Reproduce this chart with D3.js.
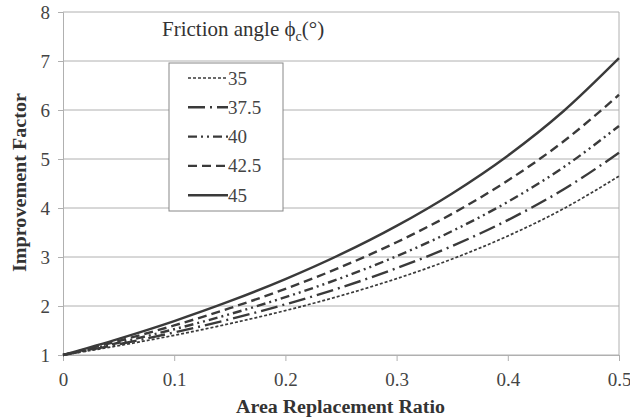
<!DOCTYPE html>
<html><head><meta charset="utf-8">
<script src="https://cdn.jsdelivr.net/npm/d3@7"></script>
<style>body{margin:0;background:#fff}</style>
</head><body><svg id="c" width="630" height="420" font-family="'Liberation Serif', 'DejaVu Serif', serif"></svg>
<script>
const ratios = [0, 0.05, 0.1, 0.15, 0.2, 0.25, 0.3, 0.35, 0.4, 0.45, 0.5];
const angles = ["35", "37.5", "40", "42.5", "45"];
const phi35  = [1, 1.190, 1.402, 1.640, 1.907, 2.211, 2.558, 2.960, 3.429, 3.984, 4.651];
const phi375 = [1, 1.218, 1.460, 1.730, 2.034, 2.378, 2.771, 3.224, 3.753, 4.377, 5.126];
const phi40  = [1, 1.250, 1.526, 1.834, 2.180, 2.570, 3.016, 3.529, 4.126, 4.830, 5.674];
const phi425 = [1, 1.286, 1.603, 1.955, 2.350, 2.795, 3.301, 3.883, 4.560, 5.357, 6.311];
const phi45  = [1, 1.330, 1.693, 2.097, 2.549, 3.057, 3.635, 4.298, 5.068, 5.974, 7.057];
const xTicks = [0, 0.1, 0.2, 0.3, 0.4, 0.5];
const yTicks = [1, 2, 3, 4, 5, 6, 7, 8];

const seriesVals = [phi35, phi375, phi40, phi425, phi45];
const dashes = ["3,2", "17,5,2,5", "9,4,2,4,2,4", "9,5", null];
const widths = [1.7, 2.4, 2.4, 2.4, 2.4];
const col = "#3a3a3a";
const txt = "#444";
const FF = "Liberation Serif, DejaVu Serif, serif";

const svg = d3.select("#c");
const L = 63, R = 619, T = 12, B = 355;
const x = d3.scaleLinear().domain([0, 0.5]).range([L, R]);
const y = d3.scaleLinear().domain([1, 8]).range([B, T]);

// grid
svg.append("g").selectAll("line").data(yTicks).join("line")
  .attr("x1", L).attr("x2", R).attr("y1", d => y(d)).attr("y2", d => y(d))
  .attr("stroke", "#b0b0b0").attr("stroke-width", 1);
svg.append("line").attr("x1", R).attr("x2", R).attr("y1", T).attr("y2", B).attr("stroke", "#b0b0b0");

// axes
const xa = svg.append("g").attr("transform", `translate(0,${B})`)
  .call(d3.axisBottom(x).tickValues(xTicks).tickFormat(d => d === 0 ? "0" : d3.format(".1f")(d)).tickSize(6).tickPadding(12));
xa.attr("font-family", FF).attr("font-size", 19);
xa.select(".domain").attr("stroke", "#b0b0b0");
xa.selectAll(".tick line").attr("stroke", "#b0b0b0");
xa.selectAll("text").attr("fill", txt);

const ya = svg.append("g").attr("transform", `translate(${L},0)`)
  .call(d3.axisLeft(y).tickValues(yTicks).tickFormat(d3.format("d")).tickSize(5).tickPadding(8));
ya.attr("font-family", FF).attr("font-size", 19);
ya.select(".domain").attr("stroke", "#b0b0b0");
ya.selectAll(".tick line").attr("stroke", "#b0b0b0");
ya.selectAll("text").attr("fill", txt);

// lines
const line = d3.line().x((d, i) => x(ratios[i])).y(d => y(d)).curve(d3.curveMonotoneX);
seriesVals.forEach((vals, k) => {
  svg.append("path").datum(vals).attr("d", line).attr("fill", "none")
    .attr("stroke", col).attr("stroke-width", widths[k])
    .attr("stroke-dasharray", dashes[k]);
});

// title in plot
const t = svg.append("text").attr("x", 162).attr("y", 36).attr("font-size", 21).attr("font-family", FF).attr("fill", "#333");
t.append("tspan").text("Friction angle \u03D5");
t.append("tspan").attr("font-size", 14).attr("dy", 5).text("c");
t.append("tspan").attr("dy", -5).text("(\u00B0)");

// legend
svg.append("rect").attr("x", 169).attr("y", 63).attr("width", 114).attr("height", 148)
  .attr("fill", "#fff").attr("stroke", "#888").attr("stroke-width", 1);
angles.forEach((a, k) => {
  const yy = 78 + k * 29.3;
  svg.append("line").attr("x1", 188).attr("x2", 228).attr("y1", yy).attr("y2", yy)
    .attr("stroke", col).attr("stroke-width", widths[k]).attr("stroke-dasharray", dashes[k]);
  svg.append("text").attr("x", 228).attr("y", yy + 6.5).attr("font-size", 19).attr("font-family", FF).attr("fill", txt).text(a);
});

// axis titles
svg.append("text").attr("x", 236).attr("y", 413)
  .attr("font-size", 18).attr("font-weight", "bold").attr("font-family", FF).attr("fill", "#333")
  .attr("textLength", 209).attr("lengthAdjust", "spacingAndGlyphs").text("Area Replacement Ratio");
svg.append("text").attr("transform", `translate(26,272) rotate(-90)`)
  .attr("font-size", 18).attr("font-weight", "bold").attr("font-family", FF).attr("fill", "#333")
  .attr("textLength", 179).attr("lengthAdjust", "spacingAndGlyphs").text("Improvement  Factor");
</script></body></html>
